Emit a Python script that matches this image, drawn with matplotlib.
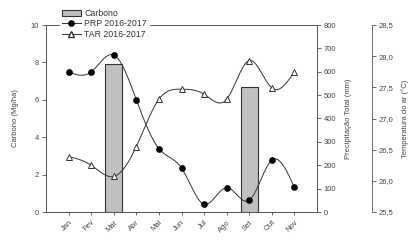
import numpy as np
import matplotlib
matplotlib.use("Agg")
import matplotlib.pyplot as plt
from matplotlib.lines import Line2D
from matplotlib.patches import Patch

plt.rcParams['font.family'] = ['Liberation Sans', 'DejaVu Sans']

months = ["Jan", "Fev", "Mar", "Abr", "Mai", "Jun", "Jul", "Ago", "Set", "Out", "Nov"]
carbono_months = ["Mar", "Set"]
carbono = [7.9, 6.7]
prp = [600, 599, 672, 480, 271, 188, 33, 104, 50, 222, 105]
tar = [26.39, 26.25, 26.07, 26.55, 27.31, 27.47, 27.39, 27.31, 27.93, 27.49, 27.75]


def natural_spline(x, y, n=25):
    x = np.asarray(x, float)
    y = np.asarray(y, float)
    m = len(x)
    h = np.diff(x)
    A = np.zeros((m, m))
    b = np.zeros(m)
    A[0, 0] = A[-1, -1] = 1
    for i in range(1, m - 1):
        A[i, i - 1] = h[i - 1]
        A[i, i] = 2 * (h[i - 1] + h[i])
        A[i, i + 1] = h[i]
        b[i] = 6 * ((y[i + 1] - y[i]) / h[i] - (y[i] - y[i - 1]) / h[i - 1])
    M = np.linalg.solve(A, b)
    xs, ys = [], []
    for i in range(m - 1):
        t = np.linspace(x[i], x[i + 1], n, endpoint=(i == m - 2))
        a = x[i + 1] - t
        c = t - x[i]
        s = (M[i] * a ** 3 + M[i + 1] * c ** 3) / (6 * h[i]) \
            + (y[i] / h[i] - M[i] * h[i] / 6) * a \
            + (y[i + 1] / h[i] - M[i + 1] * h[i] / 6) * c
        xs.append(t)
        ys.append(s)
    return np.concatenate(xs), np.concatenate(ys)


fig = plt.figure(figsize=(4.19, 2.45), dpi=100)
W = 317 - 46
ax = fig.add_axes([46 / 419, 1 - 212 / 245, W / 419, (212 - 25) / 245])
x = np.arange(len(months))
tc = "#444444"
sc = "#555555"
fs = 5.5

cx = [months.index(m) for m in carbono_months]
ax.bar(cx, carbono, width=0.74, color="#c0c0c0", edgecolor="#333333", linewidth=0.8, zorder=1)
ax.set_xlim(-1, len(months))
ax.set_ylim(0, 10)
ax.set_yticks(range(0, 11, 2))
ax.set_xticks(x)
ax.set_xticklabels(months, rotation=45, ha="right", rotation_mode="anchor", fontsize=fs, color=tc)
ax.tick_params(axis="x", length=2, width=0.6, color=sc, pad=3)
ax.tick_params(axis="y", labelsize=fs, labelcolor=tc, length=3, width=0.6, color=sc, pad=2)
ax.set_ylabel("Carbono (Mg/ha)", fontsize=fs, color=tc)
ax.yaxis.set_label_coords((19 - 46) / W, 0.5)
for s in ax.spines.values():
    s.set_linewidth(0.6)
    s.set_color(sc)

ax2 = ax.twinx()
ax2.set_ylim(0, 800)
ax2.set_yticks(range(0, 801, 100))
ax2.tick_params(axis="y", labelsize=fs, labelcolor=tc, length=3, width=0.6, color=sc, pad=2)
ax2.set_ylabel("Precipitação Total (mm)", fontsize=fs, color=tc)
ax2.yaxis.set_label_coords((345 - 46) / W, 0.5)
for s in ax2.spines.values():
    s.set_linewidth(0.6)
    s.set_color(sc)
sx, sy = natural_spline(x, prp)
ax2.plot(sx, sy, color="#333333", lw=0.7, zorder=3)
ax2.plot(x, prp, "o", color="black", ms=3.8, zorder=4)

ax3 = ax.twinx()
ax3.spines["right"].set_position(("axes", (372 - 46) / W))
for k in ["top", "bottom", "left"]:
    ax3.spines[k].set_visible(False)
ax3.spines["right"].set_linewidth(0.6)
ax3.spines["right"].set_color(sc)
ax3.set_ylim(25.5, 28.5)
tvals = np.arange(25.5, 28.51, 0.5)
ax3.set_yticks(tvals)
ax3.set_yticklabels([f"{v:.1f}".replace(".", ",") for v in tvals])
ax3.tick_params(axis="y", labelsize=fs, labelcolor=tc, length=3, width=0.6, color=sc, pad=2)
ax3.set_ylabel("Temperatura do ar (°C)", fontsize=fs, color=tc)
ax3.yaxis.set_label_coords((401 - 46) / W, 0.5)
tx, ty = natural_spline(x, tar)
ax3.plot(tx, ty, color="#333333", lw=0.7, zorder=3)
ax3.plot(x, tar, "^", mfc="white", mec="#333333", mew=0.7, ms=5, zorder=4)

handles = [
    Patch(facecolor="#c0c0c0", edgecolor="#333333", linewidth=0.8, label="Carbono"),
    Line2D([], [], color="#333333", lw=0.7, marker="o", mfc="black", mec="black", ms=3.8, label="PRP 2016-2017"),
    Line2D([], [], color="#333333", lw=0.7, marker="^", mfc="white", mec="#333333", ms=5, label="TAR 2016-2017"),
]
leg = fig.legend(handles=handles, loc="upper left", bbox_to_anchor=(60 / 419, 1 - 7 / 245),
                 frameon=True, fontsize=6.3, handlelength=2.2, handletextpad=0.4,
                 labelspacing=0.2, borderpad=0.2, borderaxespad=0)
leg.get_frame().set_edgecolor("white")
leg.get_frame().set_facecolor("white")
leg.get_frame().set_alpha(1)
for t in leg.get_texts():
    t.set_color("#333333")

fig.savefig("out.png", dpi=100)
